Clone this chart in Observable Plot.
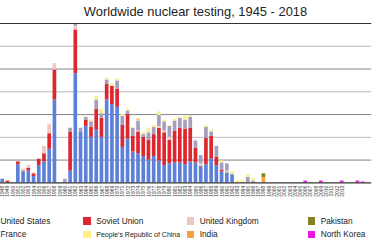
<!DOCTYPE html>
<html><head><meta charset="utf-8">
<script src="https://cdn.jsdelivr.net/npm/d3@7"></script>
<script src="https://cdn.jsdelivr.net/npm/@observablehq/plot@0.6"></script>
<style>
html,body{margin:0;padding:0;background:#fff;}
#wrap{position:relative;width:375px;height:250px;overflow:hidden;font-family:"Liberation Sans",Arial,sans-serif;}
#title{position:absolute;left:0;top:4px;width:391px;text-align:center;font-size:12.9px;line-height:15px;color:#222;white-space:nowrap;}
#chart{position:absolute;left:-28px;top:20px;}
.lg{position:absolute;font-size:8.3px;line-height:10px;color:#222;white-space:nowrap;}
.sw{position:absolute;width:7.4px;height:7.4px;}
</style></head>
<body>
<div id="wrap">
  <div id="title">Worldwide nuclear testing, 1945 - 2018</div>
  <div id="chart"></div>
  <div id="legend"></div>
</div>
<script>
const years = ["1945","1946","1947","1948","1949","1950","1951","1952","1953","1954",
"1955","1956","1957","1958","1959","1960","1961","1962","1963","1964",
"1965","1966","1967","1968","1969","1970","1971","1972","1973","1974",
"1975","1976","1977","1978","1979","1980","1981","1982","1983","1984",
"1985","1986","1987","1988","1989","1990","1991","1992","1993","1994",
"1995","1996","1997","1998","1999","2000","2001","2002","2003","2004",
"2005","2006","2007","2008","2009","2010","2011","2012","2013","2014",
"2015","2016","2017","2018"];

// year labels visible in the picture's window
const tickYears = ["1948","1949","1950","1951","1952","1953","1954",
"1955","1956","1957","1958","1959","1960","1961","1962","1963","1964",
"1965","1966","1967","1968","1969","1970","1971","1972","1973","1974",
"1975","1976","1977","1978","1979","1980","1981","1982","1983","1984",
"1985","1986","1987","1988","1989","1990","1991","1992","1993","1994",
"1995","1996","1997","1998","1999","2000","2001","2002","2003","2004",
"2005","2006","2007","2008","2009","2010","2011","2012","2013"];

const countries = ["United States","Soviet Union","United Kingdom","France","People's Republic of China","India","Pakistan","North Korea"];
const colors = ["#5d80d8","#dd262e","#f0c7bf","#a59ebd","#fcef8c","#f7a33d","#857f25","#ee14e2"];

const unitedStates = [1,2,0,4,0,0,20,12,13,7, 19,23,37,91,0,0,13,120,56,62, 50,58,50,91,86,83,39,48,34,32, 29,25,29,24,19,21,22,22,20,23, 22,18,20,26,19,12,11,9,0,0, 0,0,0,0,0,0,0,0,0,0, 0,0,0,0,0,0,0,0,0,0, 0,0,0,0];
const sovietUnion  = [0,0,0,0,2,0,3,1,3,3, 7,9,17,33,0,0,43,48,0,7, 11,23,21,17,20,20,24,27,17,24, 21,22,24,36,36,26,35,38,39,37, 16,0,29,25,9,2,0,0,0,0, 0,0,0,0,0,0,0,0,0,0, 0,0,0,0,0,0,0,0,0,0, 0,0,0,0];
const unitedKingdom= [0,0,0,0,0,0,0,2,3,1, 0,8,10,7,0,0,0,4,0,0, 0,0,0,0,0,0,0,0,0,1, 0,0,0,2,2,3,0,0,0,0, 0,3,0,0,0,0,2,0,0,0, 0,0,0,0,0,0,0,0,0,0, 0,0,0,0,0,0,0,0,0,0, 0,0,0,0];
const france       = [0,0,0,0,0,0,0,0,0,0, 0,0,0,0,0,4,4,2,4,3, 6,10,5,5,0,9,10,4,9,11, 3,8,8,12,10,12,11,11,10,12, 8,9,12,5,12,8,8,0,0,0, 6,2,0,0,0,0,0,0,0,0, 0,0,0,0,0,0,0,0,0,0, 0,0,0,0];
const china        = [0,0,0,0,0,0,0,0,0,0, 0,0,0,0,0,0,0,0,0,1, 2,4,5,2,3,2,2,2,1,1, 2,5,2,4,2,1,2,1,4,2, 0,0,2,2,0,2,0,3,2,3, 3,3,0,0,0,0,0,0,0,0, 0,0,0,0,0,0,0,0,0,0, 0,0,0,0];
const india        = [0,0,0,0,0,0,0,0,0,0, 0,0,0,0,0,0,0,0,0,0, 0,0,0,0,0,0,0,0,0,1, 0,0,0,0,0,0,0,0,0,0, 0,0,0,0,0,0,0,0,0,0, 0,0,0,6,0,0,0,0,0,0, 0,0,0,0,0,0,0,0,0,0, 0,0,0,0];
const pakistan     = [0,0,0,0,0,0,0,0,0,0, 0,0,0,0,0,0,0,0,0,0, 0,0,0,0,0,0,0,0,0,0, 0,0,0,0,0,0,0,0,0,0, 0,0,0,0,0,0,0,0,0,0, 0,0,0,4,0,0,0,0,0,0, 0,0,0,0,0,0,0,0,0,0, 0,0,0,0];
const northKorea   = [0,0,0,0,0,0,0,0,0,0, 0,0,0,0,0,0,0,0,0,0, 0,0,0,0,0,0,0,0,0,0, 0,0,0,0,0,0,0,0,0,0, 0,0,0,0,0,0,0,0,0,0, 0,0,0,0,0,0,0,0,0,0, 0,2,0,0,2,0,0,0,2,0, 0,2,1,0];

const minorTicks = [50,100,150];
const majorTicks = [25,75,125];

const series = [unitedStates, sovietUnion, unitedKingdom, france, china, india, pakistan, northKorea];
const rows = [];
countries.forEach((c, i) => series[i].forEach((v, j) => { if (v > 0) rows.push({year: years[j], country: c, value: v}); }));

const chart = Plot.plot({
  width: 436, height: 195.7,
  marginLeft: 12, marginRight: 4, marginTop: 3.3, marginBottom: 20,
  style: {fontFamily: "Liberation Sans, Arial, sans-serif", background: "transparent"},
  x: {type: "band", domain: years, padding: 0.3, label: null},
  y: {domain: [0, 175], axis: null, label: null},
  color: {domain: countries, range: colors},
  marks: [
    Plot.ruleY(minorTicks, {stroke: "#b4b4b4", strokeWidth: 1}),
    Plot.ruleY(majorTicks, {stroke: "#7a7a7a", strokeWidth: 1}),
    Plot.barY(rows, Plot.stackY({x: "year", y: "value", fill: "country"})),
    Plot.ruleY([175], {stroke: "#222", strokeWidth: 1}),
    Plot.ruleY([0], {stroke: "#333", strokeWidth: 1.5}),
    Plot.axisX({ticks: tickYears, label: null, tickSize: 0, tickPadding: 3, tickRotate: -90, fontSize: 5.4, fill: "#444"})
  ]
});
document.getElementById("chart").appendChild(chart);

// legend
const legendLayout = [
  {i: 0, x: -12.5, row: 0}, {i: 1, x: 83.3, row: 0}, {i: 2, x: 186.7, row: 0}, {i: 6, x: 307.7, row: 0},
  {i: 3, x: -12.5, row: 1}, {i: 4, x: 83.3, row: 1}, {i: 5, x: 186.7, row: 1}, {i: 7, x: 307.7, row: 1}
];
const lg = document.getElementById("legend");
legendLayout.forEach(d => {
  const sw = document.createElement("div");
  sw.className = "sw";
  sw.style.left = d.x + "px";
  sw.style.top = (d.row ? 230.8 : 217.3) + "px";
  sw.style.background = colors[d.i];
  lg.appendChild(sw);
  const t = document.createElement("div");
  t.className = "lg";
  t.textContent = countries[d.i];
  t.style.left = (d.x + 13) + "px";
  if (d.i === 4) { t.style.fontSize = "7px"; t.style.top = "229.6px"; }
  else t.style.top = (d.row ? 229.1 : 215.8) + "px";
  lg.appendChild(t);
});
</script>
</body></html>
